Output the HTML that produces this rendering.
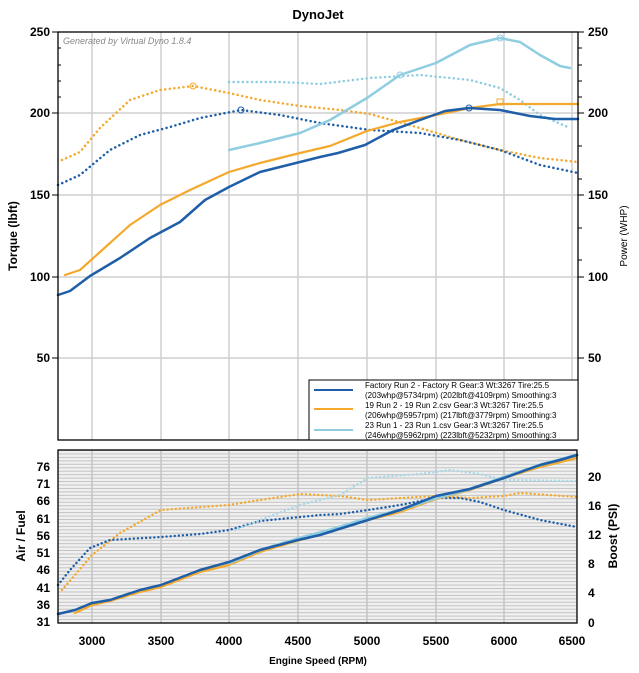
<!DOCTYPE html>
<html><head><meta charset="utf-8"><style>
html,body{margin:0;padding:0;background:#fff;}
svg{display:block;font-family:"Liberation Sans",Arial,sans-serif;}
</style></head><body>
<svg width="639" height="673" viewBox="0 0 639 673" xmlns="http://www.w3.org/2000/svg">
<defs>
<pattern id="hl" x="0" y="450" width="10" height="3.45" patternUnits="userSpaceOnUse">
<rect width="10" height="3.45" fill="#f0f0f0"/>
<rect y="0" width="10" height="1" fill="#c4c4c4"/>
</pattern>
</defs>
<text x="318" y="19" font-size="13" font-weight="bold" text-anchor="middle">DynoJet</text>
<rect x="58" y="32" width="520" height="408" fill="#fff"/>
<g stroke="#cfcfcf" stroke-width="1.5">
<line x1="92" y1="32" x2="92" y2="440"/><line x1="161" y1="32" x2="161" y2="440"/><line x1="229" y1="32" x2="229" y2="440"/><line x1="298" y1="32" x2="298" y2="440"/><line x1="367" y1="32" x2="367" y2="440"/><line x1="436" y1="32" x2="436" y2="440"/><line x1="504" y1="32" x2="504" y2="440"/><line x1="572" y1="32" x2="572" y2="440"/>
<line x1="58" y1="113" x2="578" y2="113"/><line x1="58" y1="195" x2="578" y2="195"/><line x1="58" y1="277" x2="578" y2="277"/><line x1="58" y1="358" x2="578" y2="358"/>
</g>
<text x="63" y="44" font-size="9" font-style="italic" fill="#888">Generated by Virtual Dyno 1.8.4</text>
<g fill="none" stroke-width="2.2" stroke-linecap="round" stroke-linejoin="round">
<polyline stroke="#f4a92c" stroke-dasharray="0.1 4.5" stroke-width="2.5" points="62,160 80,152 100,128 130,100 160,90 193,86 229,93 260,100 300,106 340,110 370,114 420,128 460,140 500,150 540,158 578,162"/>
<polyline stroke="#1f5ea8" stroke-dasharray="0.1 4.5" stroke-width="2.5" points="58,185 80,175 110,150 140,135 170,127 200,118 241,110 280,115 320,123 370,130 420,133 460,140 500,150 540,165 578,173"/>
<polyline stroke="#8fcde0" stroke-dasharray="0.1 4.5" stroke-width="2.5" points="229,82 280,82 320,84 370,78 420,75 470,80 500,88 520,100 540,115 570,128"/>
<polyline stroke="#f4a92c" points="65,275 80,270 100,252 130,225 160,205 190,190 229,172 260,163 300,153 330,146 367,131 400,122 436,115 470,108 500,104 578,104"/>
<polyline stroke="#1f5ea8" stroke-width="2.5" points="58,295 70,291 90,276 120,258 150,238 180,222 205,200 229,187 260,172 300,162 320,157 338,153 365,145 393,130 420,120 445,111 469,108 500,110 530,116 555,119 578,119"/>
<polyline stroke="#8fcde0" stroke-width="2.5" points="229,150 260,143 300,133 330,120 367,98 400,75 436,63 470,45 500,38 520,42 540,55 560,66 570,68"/>
</g>
<g fill="none" stroke-width="1">
<circle cx="193" cy="86" r="3" stroke="#f4a92c"/><circle cx="241" cy="110" r="3" stroke="#1f5ea8"/><circle cx="400" cy="75" r="3" stroke="#8fcde0"/><circle cx="469" cy="108" r="3" stroke="#1f5ea8"/><rect x="497" y="99" width="6" height="6" stroke="#f4a92c"/><circle cx="500" cy="38" r="3" stroke="#8fcde0"/>
</g>
<rect x="58" y="32" width="520" height="408" fill="none" stroke="#000" stroke-width="1.3"/>
<rect x="309" y="380" width="269" height="60" fill="#fff" stroke="#000" stroke-width="1"/>
<line x1="314" y1="390" x2="353" y2="390" stroke="#1f5ea8" stroke-width="2"/>
<line x1="314" y1="409" x2="353" y2="409" stroke="#f4a92c" stroke-width="2"/>
<line x1="314" y1="430" x2="353" y2="430" stroke="#8fcde0" stroke-width="2"/>
<g font-size="8" fill="#000">
<text x="365" y="388">Factory Run 2 - Factory R Gear:3 Wt:3267 Tire:25.5</text>
<text x="365" y="398">(203whp@5734rpm)  (202lbft@4109rpm)  Smoothing:3</text>
<text x="365" y="408">19 Run 2 - 19 Run 2.csv Gear:3 Wt:3267 Tire:25.5</text>
<text x="365" y="418">(206whp@5957rpm)  (217lbft@3779rpm)  Smoothing:3</text>
<text x="365" y="428">23 Run 1 - 23 Run 1.csv Gear:3 Wt:3267 Tire:25.5</text>
<text x="365" y="438">(246whp@5962rpm)  (223lbft@5232rpm)  Smoothing:3</text>
</g>
<g font-size="12" font-weight="bold" text-anchor="end">
<text x="50" y="36">250</text><text x="50" y="117">200</text><text x="50" y="199">150</text><text x="50" y="281">100</text><text x="50" y="362">50</text>
</g>
<g font-size="12" font-weight="bold" text-anchor="start">
<text x="588" y="36">250</text><text x="588" y="117">200</text><text x="588" y="199">150</text><text x="588" y="281">100</text><text x="588" y="362">50</text>
</g>
<g stroke="#000" stroke-width="1">
<line x1="52" y1="32" x2="58" y2="32"/><line x1="52" y1="113" x2="58" y2="113"/><line x1="52" y1="195" x2="58" y2="195"/><line x1="52" y1="277" x2="58" y2="277"/><line x1="52" y1="358" x2="58" y2="358"/>
<line x1="578" y1="32" x2="584" y2="32"/><line x1="578" y1="113" x2="584" y2="113"/><line x1="578" y1="195" x2="584" y2="195"/><line x1="578" y1="277" x2="584" y2="277"/><line x1="578" y1="358" x2="584" y2="358"/>
<line x1="58" y1="48" x2="61" y2="48"/><line x1="58" y1="65" x2="61" y2="65"/><line x1="58" y1="81" x2="61" y2="81"/><line x1="58" y1="97" x2="61" y2="97"/>
<line x1="578" y1="48" x2="582" y2="48"/><line x1="578" y1="65" x2="582" y2="65"/><line x1="578" y1="81" x2="582" y2="81"/><line x1="578" y1="97" x2="582" y2="97"/>
<line x1="578" y1="146" x2="582" y2="146"/><line x1="578" y1="179" x2="582" y2="179"/><line x1="578" y1="228" x2="582" y2="228"/><line x1="578" y1="260" x2="582" y2="260"/>
</g>
<text transform="translate(17,236) rotate(-90)" font-size="12" font-weight="bold" text-anchor="middle">Torque (lbft)</text>
<text transform="translate(627,236) rotate(-90)" font-size="10" text-anchor="middle">Power (WHP)</text>
<rect x="58" y="450" width="519" height="173" fill="url(#hl)"/>
<g stroke="#c4c4c4" stroke-width="1.5">
<line x1="92" y1="450" x2="92" y2="623"/><line x1="161" y1="450" x2="161" y2="623"/><line x1="229" y1="450" x2="229" y2="623"/><line x1="298" y1="450" x2="298" y2="623"/><line x1="367" y1="450" x2="367" y2="623"/><line x1="436" y1="450" x2="436" y2="623"/><line x1="504" y1="450" x2="504" y2="623"/>
</g>
<g fill="none" stroke-width="2.2" stroke-linecap="round" stroke-linejoin="round">
<polyline stroke="#f4a92c" stroke-dasharray="0.1 4" stroke-width="2.4" points="62,590 75,575 92,555 120,533 161,510 229,505 260,500 300,494 340,496 368,500 400,498 436,496 470,498 504,496 520,493 577,497"/>
<polyline stroke="#1f5ea8" stroke-dasharray="0.1 4" stroke-width="2.4" points="58,585 70,570 90,548 110,540 161,537 200,534 229,530 260,521 290,518 320,515 340,514 368,510 400,505 436,498 460,498 480,502 504,510 540,520 577,527"/>
<polyline stroke="#a8d8e8" stroke-dasharray="0.1 4" stroke-width="2.4" points="235,530 260,520 300,505 340,495 368,478 420,474 450,470 480,474 504,480 577,481"/>
<polyline stroke="#f4a92c" points="75,613 92,605 110,601 140,592 161,587 200,572 229,565 260,552 300,540 330,532 368,520 400,512 436,499 470,490 504,478 540,467 577,458"/>
<polyline stroke="#8fcde0" stroke-width="3" points="229,563 260,550 300,538 330,530 368,518 400,510 436,498 470,489 504,477 540,465 577,455"/>
<polyline stroke="#1f5ea8" stroke-width="2.5" points="58,614 75,610 92,603 110,600 140,590 161,585 200,570 229,562 260,550 298,540 320,535 368,520 400,510 436,496 470,489 504,478 540,465 560,460 577,455"/>
</g>
<rect x="58" y="450" width="519" height="173" fill="none" stroke="#000" stroke-width="1.3"/>
<g font-size="12" font-weight="bold" text-anchor="end">
<text x="50" y="471">76</text><text x="50" y="488">71</text><text x="50" y="505">66</text><text x="50" y="523">61</text><text x="50" y="540">56</text><text x="50" y="557">51</text><text x="50" y="574">46</text><text x="50" y="592">41</text><text x="50" y="609">36</text><text x="50" y="626">31</text>
</g>
<g font-size="12" font-weight="bold" text-anchor="start">
<text x="588" y="481">20</text><text x="588" y="510">16</text><text x="588" y="539">12</text><text x="588" y="568">8</text><text x="588" y="597">4</text><text x="588" y="627">0</text>
</g>
<g font-size="12" font-weight="bold" text-anchor="middle">
<text x="92" y="645">3000</text><text x="161" y="645">3500</text><text x="229" y="645">4000</text><text x="298" y="645">4500</text><text x="367" y="645">5000</text><text x="436" y="645">5500</text><text x="504" y="645">6000</text><text x="572" y="645">6500</text>
</g>
<text transform="translate(25,536) rotate(-90)" font-size="12" font-weight="bold" text-anchor="middle">Air / Fuel</text>
<text transform="translate(617,536) rotate(-90)" font-size="12" font-weight="bold" text-anchor="middle">Boost (PSI)</text>
<text x="318" y="664" font-size="10" font-weight="bold" text-anchor="middle">Engine Speed (RPM)</text>
</svg>
</body></html>
